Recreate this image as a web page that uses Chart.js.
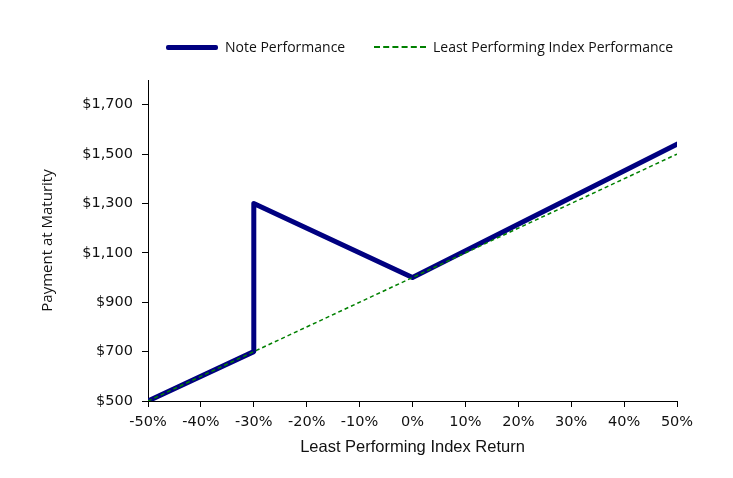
<!DOCTYPE html>
<html>
<head>
<meta charset="utf-8">
<script src="https://cdn.jsdelivr.net/npm/chart.js@4"></script>
<style>
  body { margin: 0; background: #fff; }
  #wrap { position: relative; width: 733px; height: 478px; }
  .legend-text { position: absolute; top: 38px; font: 14px "Open Sans", sans-serif; color: #111; line-height: 18px; white-space: nowrap; }
</style>
</head>
<body>
<div id="wrap">
  <canvas id="payoffChart" width="733" height="478"></canvas>
  <!-- legend -->
  <div style="position:absolute;left:166px;top:45px;width:52px;height:5px;background:#000080;border-radius:2px;"></div>
  <div class="legend-text" style="left:225px;">Note Performance</div>
  <div style="position:absolute;left:374px;top:46px;width:52px;border-top:2px dashed #008000;"></div>
  <div class="legend-text" style="left:433px;">Least Performing Index Performance</div>
</div>
<script>
// Note payoff points
const noteReturns = [-0.5, -0.3, -0.3, 0, 0.5];
const notePayments = [500, 700, 1300, 1000, 1540];

// Least performing index (1:1)
const indexReturns = [-0.5, 0.5];
const indexPayments = [500, 1500];

// Axis ticks
const xTicks = [-0.5, -0.4, -0.3, -0.2, -0.1, 0, 0.1, 0.2, 0.3, 0.4, 0.5];
const yTicks = [500, 700, 900, 1100, 1300, 1500, 1700];

const toPoints = (xs, ys) => xs.map((x, i) => ({ x: x, y: ys[i] }));

const ctx = document.getElementById("payoffChart").getContext("2d");
new Chart(ctx, {
  type: "line",
  data: {
    datasets: [
      {
        label: "Least Performing Index Performance",
        data: toPoints(indexReturns, indexPayments),
        borderColor: "#008000",
        borderWidth: 1.5,
        borderDash: [4, 3],
        pointRadius: 0,
        fill: false
      },
      {
        label: "Note Performance",
        data: toPoints(noteReturns, notePayments),
        borderColor: "#000080",
        borderWidth: 5,
        borderJoinStyle: "round",
        borderCapStyle: "round",
        pointRadius: 0,
        fill: false
      }
    ]
  },
  options: {
    responsive: false,
    animation: false,
    layout: { padding: { top: 80, right: 56, left: 0, bottom: 0 } },
    plugins: { legend: { display: false }, tooltip: { enabled: false } },
    scales: {
      x: {
        type: "linear",
        min: -0.5,
        max: 0.5,
        afterBuildTicks: (scale) => { scale.ticks = xTicks.map(v => ({ value: v })); },
        afterFit: (scale) => { scale.height = 77; },
        grid: { drawOnChartArea: false, drawTicks: true, tickLength: 6, color: "#000" },
        border: { display: true, color: "#000", width: 1 },
        ticks: {
          padding: 7,
          color: "#111",
          font: { family: "DejaVu Sans", size: 14.5 },
          maxRotation: 0,
          callback: (v) => Math.round(v * 100) + "%"
        },
        title: {
          display: true,
          text: "Least Performing Index Return",
          color: "#111",
          font: { family: "Liberation Sans", size: 16.5 },
          padding: { top: 4, bottom: 21 }
        }
      },
      y: {
        min: 500,
        max: 1800,
        afterBuildTicks: (scale) => { scale.ticks = yTicks.map(v => ({ value: v })); },
        afterFit: (scale) => { scale.width = 148; },
        grid: { drawOnChartArea: false, drawTicks: true, tickLength: 6, color: "#000" },
        border: { display: true, color: "#000", width: 1 },
        ticks: {
          padding: 9,
          color: "#111",
          font: { family: "DejaVu Sans", size: 14.5 },
          callback: (v) => "$" + v.toLocaleString("en-US")
        },
        title: {
          display: true,
          text: "Payment at Maturity",
          color: "#111",
          font: { family: "Open Sans", size: 15 },
          padding: { top: 39, bottom: 0 }
        }
      }
    }
  }
});
</script>
</body>
</html>
